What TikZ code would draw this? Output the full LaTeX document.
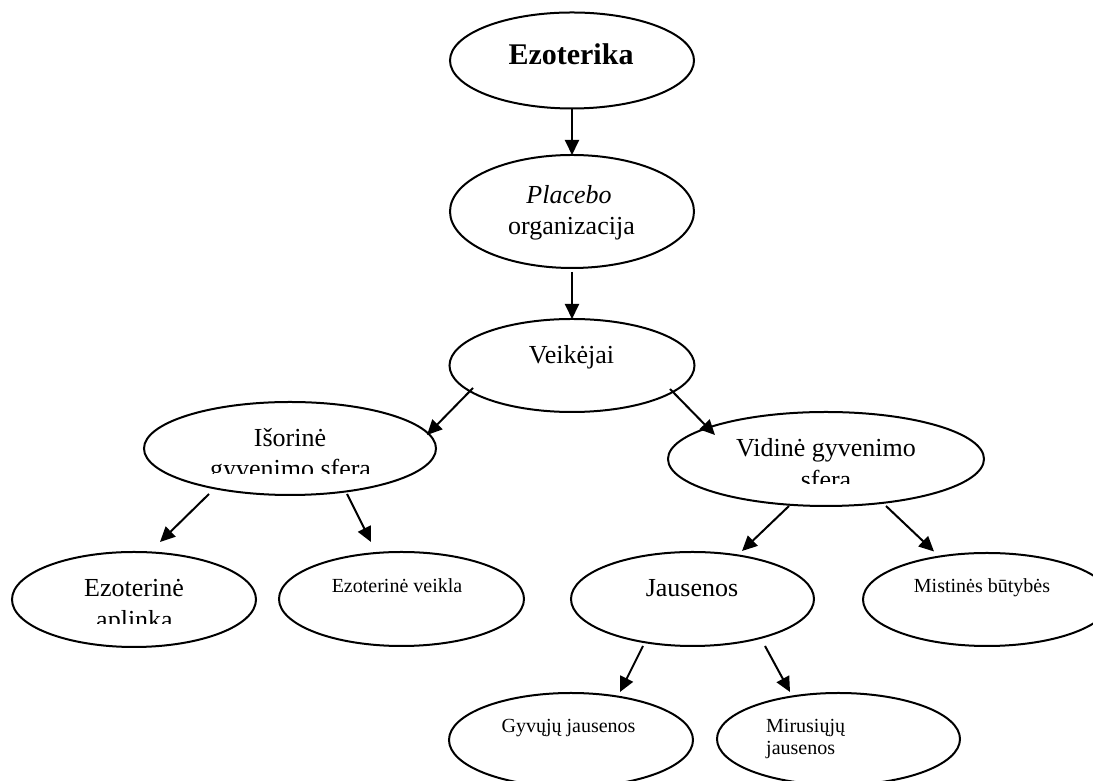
\documentclass[tikz,border=0pt]{standalone}
\usepackage{fontspec}
\setmainfont{Liberation Serif}
\usetikzlibrary{shapes.geometric,arrows.meta,calc}
\begin{document}
\begin{tikzpicture}[x=1pt,y=1pt,
  ell/.style={draw,ellipse,line width=2pt,inner sep=0pt,outer sep=0pt},
  big/.style={font=\fontsize{26}{31}\selectfont,inner sep=0pt,anchor=base},
  small/.style={font=\fontsize{20}{23}\selectfont,inner sep=0pt,anchor=base},
  arr/.style={line width=2pt,-{Triangle[length=15pt,width=14pt]}}]
\useasboundingbox (0,0) rectangle (1093,781);
\fill[white] (0,0) rectangle (1093,781);
\clip (0,0) rectangle (1093,781);

% ellipses
\node[ell,minimum width=244pt,minimum height=96pt] (ez) at (572,720.5) {};
\node[ell,minimum width=244pt,minimum height=113pt] (pl) at (572,569.5) {};
\node[ell,minimum width=245pt,minimum height=93pt] (ve) at (572,415.5) {};
\node[ell,minimum width=292pt,minimum height=93pt] (is) at (290,332.5) {};
\node[ell,minimum width=316pt,minimum height=94pt] (vi) at (826,322) {};
\node[ell,minimum width=244pt,minimum height=95pt] (ea) at (134,181.5) {};
\node[ell,minimum width=245pt,minimum height=94pt] (ev) at (401.5,182) {};
\node[ell,minimum width=243pt,minimum height=94pt] (ja) at (692.5,182) {};
\node[ell,minimum width=248pt,minimum height=93pt] (mb) at (987,181.5) {};
\node[ell,minimum width=244pt,minimum height=94pt] (gj) at (571,41) {};
\node[ell,minimum width=243pt,minimum height=92pt] (mj) at (838.5,42) {};

% texts
\node[big,font=\fontsize{30}{34}\selectfont\bfseries] (tez) at (571,716) {Ezoterika};
\node[big] (tpl1) at (569,577) {\textit{Placebo}};
\node[big] (tpl2) at (571.5,546) {organizacija};
\node[big] (tve) at (571.5,417) {Veikėjai};
\node[big] (tis1) at (290,334) {Išorinė};
\begin{scope}
  \clip (120,307) rectangle (460,360);
  \node[big] (tis2) at (290.5,303) {gyvenimo sfera};
\end{scope}
\node[big] (tvi1) at (826,324) {Vidinė gyvenimo};
\begin{scope}
  \clip (700,297) rectangle (950,340);
  \node[big] (tvi2) at (826,292) {sfera};
\end{scope}
\node[big] (tea1) at (134,184) {Ezoterinė};
\begin{scope}
  \clip (20,157) rectangle (250,200);
  \node[big] (tea2) at (134.5,152) {aplinka};
\end{scope}
\node[small] (tev) at (397,188) {Ezoterinė veikla};
\node[big] (tja) at (692,184) {Jausenos};
\node[small] (tmb) at (982,188) {Mistinės būtybės};
\node[small] (tgj) at (568.5,48) {Gyvųjų jausenos};
\node[small,anchor=base west] (tmj1) at (766,48) {Mirusiųjų};
\node[small,anchor=base west] (tmj2) at (766,26) {jausenos};

% connectors
\draw[arr] (ez.south) -- (pl.north);
\draw[arr] ($(pl.south)+(0,-4)$) -- (ve.north);
\draw[arr] ($(ve.center)+(-99,-22.5)$) -- ($(is.center)+(137,13.5)$);
\draw[arr] ($(ve.center)+(98,-23.5)$) -- ($(vi.center)+(-111,24)$);
\draw[arr] ($(is.center)+(-81,-45.5)$) -- ($(ea.center)+(26,57.5)$);
\draw[arr] ($(is.center)+(57,-45.5)$) -- ($(ev.center)+(-30.5,57)$);
\draw[arr] ($(vi.center)+(-37,-47)$) -- ($(ja.center)+(49.5,48)$);
\draw[arr] ($(vi.center)+(60,-47)$) -- ($(mb.center)+(-53,48)$);
\draw[arr] ($(ja.center)+(-49.5,-47)$) -- ($(gj.center)+(49,48)$);
\draw[arr] ($(ja.center)+(72.5,-47)$) -- ($(mj.center)+(-48.5,47)$);
\end{tikzpicture}
\end{document}
